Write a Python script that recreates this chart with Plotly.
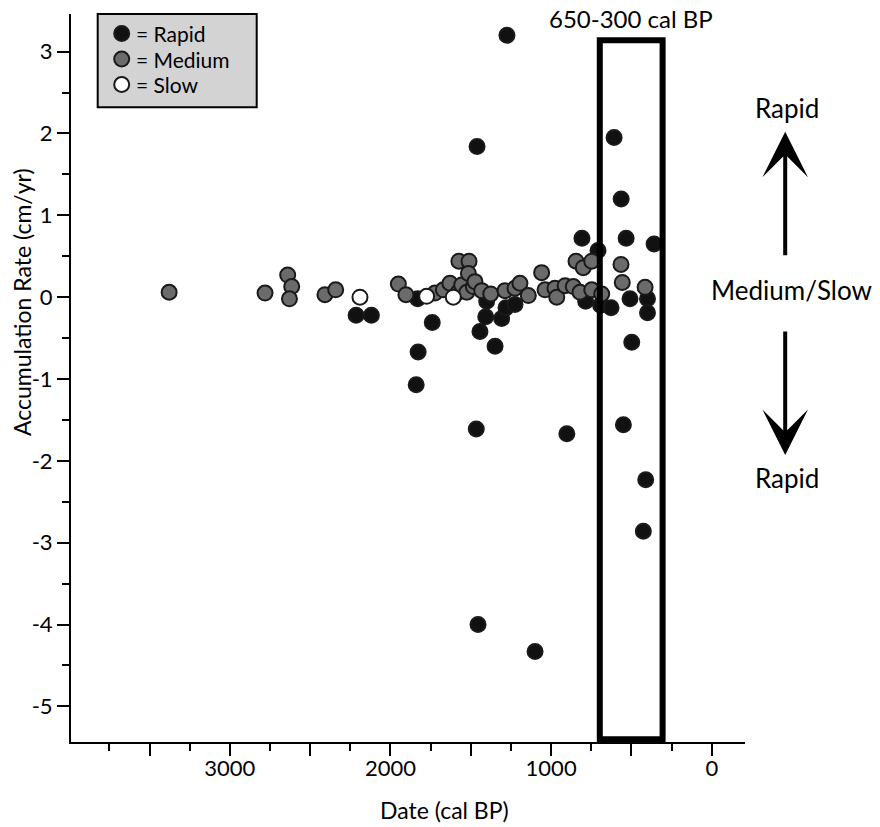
import plotly.graph_objects as go

# ---------------- data ----------------
rapid_date = [1275, 1461, 608, 564, 533, 359, 808, 708, 785, 692, 627, 1401, 1407,
              1443, 1308, 1281, 1225, 1740, 1349, 509, 400, 400, 498, 550, 902, 411,
              426, 1466, 1840, 1828, 1455, 1100, 2214, 2119, 1831]
rapid_rate = [3.2, 1.84, 1.95, 1.2, 0.72, 0.65, 0.72, 0.57, -0.05, -0.1, -0.13, -0.05, -0.24,
              -0.42, -0.26, -0.13, -0.09, -0.31, -0.6, -0.02, -0.02, -0.19, -0.55, -1.56, -1.67, -2.23,
              -2.86, -1.61, -1.07, -0.67, -4.0, -4.33, -0.22, -0.22, -0.02]

medium_date = [3378, 2781, 2640, 2615, 2629, 2408, 2341, 1951, 1904, 1723, 1671, 1630,
               1578, 1557, 1574, 1511, 1515, 1525, 1484, 1474, 1432, 1376, 1287, 1225,
               1194, 1142, 1059, 1038, 976, 965, 913, 862, 845, 800, 747, 820, 747, 685,
               565, 557, 415]
medium_rate = [0.06, 0.05, 0.27, 0.13, -0.02, 0.03, 0.09, 0.16, 0.03, 0.05, 0.09, 0.17,
               0.06, 0.15, 0.44, 0.44, 0.29, 0.06, 0.13, 0.19, 0.08, 0.04, 0.08, 0.11,
               0.17, 0.02, 0.30, 0.09, 0.11, 0.0, 0.14, 0.13, 0.44, 0.36, 0.44, 0.06, 0.09, 0.04,
               0.40, 0.18, 0.12]

slow_date = [2190, 1775, 1609]
slow_rate = [0.0, 0.01, 0.0]

legend_labels = ["= Rapid", "= Medium", "= Slow"]
legend_fills = ["#111111", "#6b6b6b", "#ffffff"]

x_tickvals = [3500, 3000, 2500, 2000, 1500, 1000, 500, 0]
x_ticktext = ["", "3000", "", "2000", "", "1000", "", "0"]
y_tickvals = [3, 2, 1, 0, -1, -2, -3, -4, -5]
y_ticktext = ["3", "2", "1", "0", "-1", "-2", "-3", "-4", "-5"]

window_start, window_end = 697, 306
window_label = "650-300 cal BP"

FONT = "Lato, 'Open Sans', sans-serif"
EDGE = "#1a1a1a"

# plot-area geometry in screen px (page body margin removed by post_script)
PL, PR, PT, PB = 71, 745, 14, 742
W, H = 880, 827


def px(xs):
    return (xs - PL) / (PR - PL)


def py(ys):
    return (PB - ys) / (PB - PT)


fig = go.Figure()
fig.add_trace(go.Scatter(x=rapid_date, y=rapid_rate, mode="markers", name="Rapid",
                         marker=dict(size=15, color=legend_fills[0], line=dict(color=EDGE, width=2))))
fig.add_trace(go.Scatter(x=medium_date, y=medium_rate, mode="markers", name="Medium",
                         marker=dict(size=15, color=legend_fills[1], line=dict(color=EDGE, width=2))))
fig.add_trace(go.Scatter(x=slow_date, y=slow_rate, mode="markers", name="Slow",
                         marker=dict(size=15, color=legend_fills[2], line=dict(color=EDGE, width=2))))

# highlighted window box
fig.add_shape(type="rect", xref="x", yref="y", x0=window_start, x1=window_end,
              y0=-5.40, y1=3.14, line=dict(color="black", width=6), layer="above")

# legend box
fig.add_shape(type="rect", xref="paper", yref="paper", x0=px(97.7), x1=px(256.7),
              y0=py(107.3), y1=py(14), fillcolor="#d3d3d3", line=dict(color="black", width=2),
              layer="above")
leg_y = [33.5, 59, 84.5]
ann = []
for lab, fill, yy in zip(legend_labels, legend_fills, leg_y):
    fig.add_shape(type="circle", xref="paper", yref="paper", xsizemode="pixel", ysizemode="pixel",
                  xanchor=px(121.7), yanchor=py(yy), x0=-7.5, x1=7.5, y0=-7.5, y1=7.5,
                  fillcolor=fill, line=dict(color=EDGE, width=2), layer="above")
    ann.append(dict(text=lab, xref="paper", yref="paper", x=px(134), y=py(yy),
                    xanchor="left", yanchor="middle", showarrow=False,
                    font=dict(size=21, family=FONT, color="black")))

ann.append(dict(text=window_label, xref="x", yref="paper",
                x=(window_start + window_end) / 2, y=py(19), showarrow=False,
                xanchor="center", yanchor="middle",
                font=dict(size=24, family=FONT, color="black")))
for txt, xx, yy in [("Rapid", 786.7, 108), ("Medium/Slow", 791, 290), ("Rapid", 786.7, 478)]:
    ann.append(dict(text=txt, xref="paper", yref="paper", x=px(xx), y=py(yy),
                    xanchor="center", yanchor="middle", showarrow=False,
                    font=dict(size=26, family=FONT, color="black")))
# arrows
ann.append(dict(text="", xref="paper", yref="paper", x=px(785.2), y=py(131.7), ax=0, ay=125,
                showarrow=True, arrowhead=3, arrowwidth=4, arrowsize=1.9, arrowcolor="black"))
ann.append(dict(text="", xref="paper", yref="paper", x=px(785.2), y=py(455), ax=0, ay=-125,
                showarrow=True, arrowhead=3, arrowwidth=4, arrowsize=1.9, arrowcolor="black"))
# axis titles
ann.append(dict(text="Accumulation Rate (cm/yr)", xref="paper", yref="paper",
                x=px(22), y=py(302), textangle=-90, showarrow=False,
                xanchor="center", yanchor="middle",
                font=dict(size=23, family=FONT, color="black")))
ann.append(dict(text="Date (cal BP)", xref="paper", yref="paper",
                x=px(445), y=py(810), showarrow=False, xanchor="center", yanchor="middle",
                font=dict(size=23, family=FONT, color="black")))

fig.update_layout(
    width=W, height=H,
    margin=dict(l=PL, r=W - PR, t=PT, b=H - PB, pad=0),
    paper_bgcolor="white", plot_bgcolor="white",
    font=dict(family=FONT, size=22, color="black"),
    annotations=ann,
    showlegend=False,
    hovermode=False,
)
fig.update_xaxes(range=[3989, -207], autorange=False,
                 tickmode="array", tickvals=x_tickvals, ticktext=x_ticktext,
                 ticks="outside", ticklen=12, tickwidth=2, tickcolor="black",
                 minor=dict(dtick=250, tick0=0, ticks="outside", ticklen=7, tickwidth=2, tickcolor="black"),
                 showline=True, linewidth=2, linecolor="black",
                 showgrid=False, zeroline=False,
                 tickfont=dict(size=22, family=FONT, color="black"))
fig.update_yaxes(range=[-5.435, 3.46], autorange=False,
                 tickmode="array", tickvals=y_tickvals, ticktext=y_ticktext,
                 ticks="outside", ticklen=12, tickwidth=2, tickcolor="black",
                 minor=dict(dtick=0.5, tick0=0, ticks="outside", ticklen=7, tickwidth=2, tickcolor="black"),
                 showline=True, linewidth=2, linecolor="black",
                 showgrid=False, zeroline=False,
                 tickfont=dict(size=22, family=FONT, color="black"))
try:
    fig.update_xaxes(ticklabelstandoff=-6)
except Exception:
    pass

fig.write_html("out.html",
               config={"displayModeBar": False, "staticPlot": True},
               post_script="document.body.style.margin='0';document.body.style.overflow='hidden';")
